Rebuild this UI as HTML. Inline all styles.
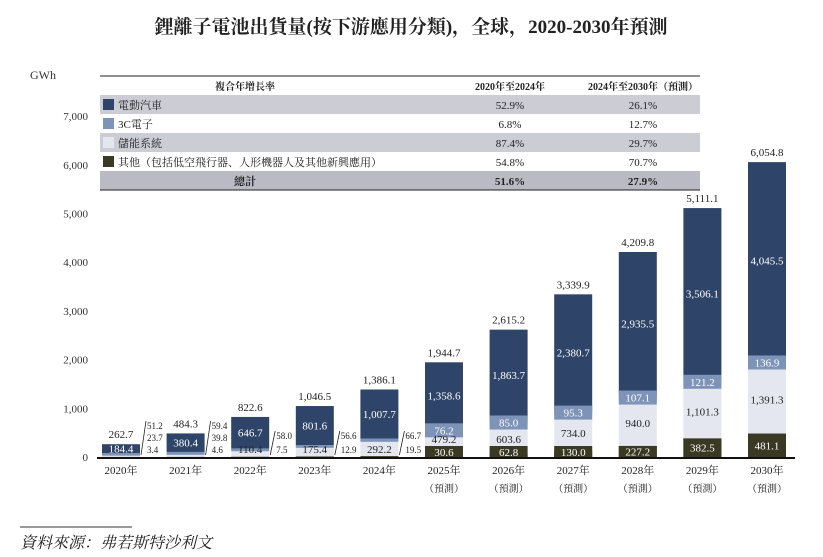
<!DOCTYPE html>
<html><head><meta charset="utf-8">
<style>
body{margin:0;background:#fff;}
svg{display:block;font-family:"Liberation Serif","Noto Serif CJK SC","Noto Sans CJK TC",serif;}
</style></head>
<body>
<svg id="chart" width="823" height="557" viewBox="0 0 823 557">
<text x="411" y="33" text-anchor="middle" font-size="19" font-weight="bold" fill="#222">鋰離子電池出貨量(按下游應用分類)，全球，2020-2030年預測</text>
<text x="30" y="79" font-size="12" fill="#333">GWh</text>
<g id="yaxis"></g>
<g id="bars"></g>
<g id="table"></g>
<line x1="20" y1="527" x2="132" y2="527" stroke="#333" stroke-width="1"/>
<text x="20" y="548" font-size="16" font-style="italic" fill="#222">資料來源：弗若斯特沙利文</text>
</svg>
<script>
const years=["2020年","2021年","2022年","2023年","2024年","2025年","2026年","2027年","2028年","2029年","2030年"];
const ev=[184.4,380.4,646.7,801.6,1007.7,1358.6,1863.7,2380.7,2935.5,3506.1,4045.5];
const cc=[51.2,59.4,58.0,56.6,66.7,76.2,85.0,95.3,107.1,121.2,136.9];
const ess=[23.7,39.8,110.4,175.4,292.2,479.2,603.6,734.0,940.0,1101.3,1391.3];
const other=[3.4,4.6,7.5,12.9,19.5,30.6,62.8,130.0,227.2,382.5,481.1];
const totals=["262.7","484.3","822.6","1,046.5","1,386.1","1,944.7","2,615.2","3,339.9","4,209.8","5,111.1","6,054.8"];
const yTicks=[0,1000,2000,3000,4000,5000,6000,7000];
const yTickLabels=["0","1,000","2,000","3,000","4,000","5,000","6,000","7,000"];
const legendNames=["電動汽車","3C電子","儲能系統","其他（包括低空飛行器、人形機器人及其他新興應用）","總計"];
const cagr1=["52.9%","6.8%","87.4%","54.8%","51.6%"];
const cagr2=["26.1%","12.7%","29.7%","70.7%","27.9%"];

const NS="http://www.w3.org/2000/svg";
const y0=457, pxPer=48.7/1000;
const yS=v=>y0-v*pxPer;
const xS=i=>121+i*64.6;
const bw=38;
const colors=["#2e4468","#7d93b8","#e4e7ef","#3a3a24"];
function mk(t,a,p){const e=document.createElementNS(NS,t);for(const k in a)e.setAttribute(k,a[k]);p.appendChild(e);return e;}
const fmt=v=>v.toLocaleString("en-US",{minimumFractionDigits:1,maximumFractionDigits:1});

const ya=document.getElementById("yaxis");
yTicks.forEach((t,i)=>{
  const tx=mk("text",{x:88,y:yS(t)+4,"text-anchor":"end","font-size":11,fill:"#333"},ya);
  
  
  tx.textContent=yTickLabels[i];
});

const bg=document.getElementById("bars");
years.forEach((yr,i)=>{
  const cx=xS(i), x=cx-bw/2;
  const segs=[other[i],ess[i],cc[i],ev[i]];
  const cols=[colors[3],colors[2],colors[1],colors[0]];
  const names=["bar-other","bar-ess","bar-3c","bar-ev"];
  let base=0;
  const mids=[];
  segs.forEach((v,k)=>{
    const r=mk("rect",{x:x,y:yS(base+v),width:bw,height:Math.max(0,v*pxPer),fill:cols[k]},bg);
    
    
    mids.push(yS(base+v/2));
    base+=v;
  });
  const tt=mk("text",{x:cx,y:yS(base)-6,"text-anchor":"middle","font-size":11,fill:"#222"},bg);
  
  
  tt.textContent=totals[i];
  const yl=mk("text",{x:cx,y:474,"text-anchor":"middle","font-size":11,fill:"#222"},bg);
  
  
  yl.textContent=yr;
  if(i>=5){
    const pl=mk("text",{x:cx,y:492,"text-anchor":"middle","font-size":10,fill:"#222"},bg);
    
    
    pl.textContent="（預測）";
  }
  const el=mk("text",{x:cx,y:mids[3]+4,"text-anchor":"middle","font-size":11,fill:"#fff"},bg);
  
  
  el.textContent=fmt(ev[i]);
  if(i>=5){
    const cb=mk("rect",{x:x,y:mids[2]-7,width:bw,height:14,fill:colors[1]},bg);
    
    const c=mk("text",{x:cx,y:mids[2]+4,"text-anchor":"middle","font-size":11,fill:"#fff"},bg);
    c.textContent=fmt(cc[i]);
    const oh=Math.max(11,other[i]*pxPer);
    const ob=mk("rect",{x:x,y:y0-oh,width:bw,height:oh,fill:colors[3]},bg);
    
    const o=mk("text",{x:cx,y:Math.min(mids[0]+4,y0-1),"text-anchor":"middle","font-size":11,fill:"#fff"},bg);
    o.textContent=fmt(other[i]);
    const s=mk("text",{x:cx,y:Math.min(mids[1]+4,y0-oh-3),"text-anchor":"middle","font-size":11,fill:"#222"},bg);
    s.textContent=fmt(ess[i]);
  } else {
    const rx=x+bw+3;
    const vals=i<2?[cc[i],ess[i],other[i]]:[cc[i],other[i]];
    const ys=i<2?[y0-28,y0-16,y0-4]:[y0-18,y0-4];
    vals.forEach((v,k)=>{
      const t=mk("text",{x:rx+4,y:ys[k],"font-size":9,fill:"#222"},bg);
      t.textContent=fmt(v);
    });
    const ln=mk("line",{x1:rx-2,y1:y0-2,x2:rx+3,y2:ys[0]-8,stroke:"#222","stroke-width":0.8},bg);
    
    if(i>=2){
      const s=mk("text",{x:cx,y:y0-4,"text-anchor":"middle","font-size":11,fill:"#222"},bg);
      s.textContent=fmt(ess[i]);
    }
  }
});
const axl=mk("line",{x1:97,y1:y0+1,x2:795,y2:y0+1,stroke:"#111","stroke-width":2},bg);



const tb=document.getElementById("table");
const tx0=100,tx1=700,rowH=19,ty=76;
mk("line",{x1:tx0,y1:ty,x2:tx1,y2:ty,stroke:"#222","stroke-width":1},tb);
const hdr=[["複合年增長率",245],["2020年至2024年",510],["2024年至2030年（預測）",643]];
hdr.forEach(h=>{const t=mk("text",{x:h[1],y:ty+14,"text-anchor":"middle","font-size":10,"font-weight":"bold",fill:"#222"},tb);
  t.textContent=h[0];});
legendNames.forEach((n,r)=>{
  const ry=ty+rowH*(r+1);
  if(r%2===0){const bgR=mk("rect",{x:tx0,y:ry,width:tx1-tx0,height:rowH,fill:r===4?"#b9bac4":"#cbccd4"},tb);
    }
  if(r<4){const sw=mk("rect",{x:tx0+3,y:ry+4,width:11,height:11,fill:colors[r]},tb);
    }
  const lt=mk("text",{x:r===4?245:tx0+18,y:ry+14,"text-anchor":r===4?"middle":"start","font-size":11,"font-weight":r===4?"bold":"normal",fill:"#222"},tb);
  lt.textContent=n;
  [[cagr1,510],[cagr2,643]].forEach(c=>{const v=mk("text",{x:c[1],y:ry+14,"text-anchor":"middle","font-size":11,"font-weight":r===4?"bold":"normal",fill:"#222"},tb);
    v.textContent=c[0][r];});
});
mk("line",{x1:tx0,y1:ty+rowH*6,x2:tx1,y2:ty+rowH*6,stroke:"#222","stroke-width":1},tb);
</script>
</body></html>
